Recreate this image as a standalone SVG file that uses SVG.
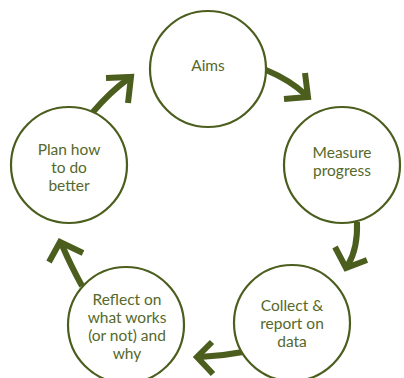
<svg xmlns="http://www.w3.org/2000/svg" width="404" height="378" viewBox="0 0 404 378">
  <style>
    .node circle { fill: #ffffff; stroke: #4b5e1e; stroke-width: 2.2; }
    .node text { font-family: Lato, "Open Sans", sans-serif; font-size: 15.5px; fill: #56682a; text-anchor: middle; }
    .conn path { fill: none; stroke: #4b5e1e; stroke-width: 6; }
    .conn .head { stroke-linejoin: miter; stroke-miterlimit: 10; }
  </style>
  <rect width="404" height="378" fill="#ffffff"/>

  <g id="connectors" class="conn">
    <!-- Aims -> Measure progress -->
    <path d="M266,70 Q290,80 306,95"/>
    <path class="head" d="M305,73 L308,97 L284,99"/>
    <!-- Measure progress -> Collect & report -->
    <path d="M357,222 Q358,248 348,265"/>
    <path class="head" d="M335,247 L346,268 L367,260"/>
    <!-- Collect & report -> Reflect -->
    <path d="M243,352 Q222,356 200,357"/>
    <path class="head" d="M212,342 L197,357 L213,374"/>
    <!-- Reflect -> Plan -->
    <path d="M82,286 Q70,264 62,245"/>
    <path class="head" d="M83,253 L60,242 L49,262"/>
    <!-- Plan -> Aims -->
    <path d="M93,112 Q110,92 128,79"/>
    <path class="head" d="M106,78 L131,77 L128,103"/>
  </g>

  <g id="aims" class="node">
    <circle cx="208" cy="69" r="58"/>
    <text x="208" y="71">Aims</text>
  </g>

  <g id="measure" class="node">
    <circle cx="342" cy="165" r="58"/>
    <text x="342" y="158">Measure</text>
    <text x="342" y="176">progress</text>
  </g>

  <g id="collect" class="node">
    <circle cx="292" cy="323" r="58"/>
    <text x="292" y="311">Collect &amp;</text>
    <text x="292" y="329">report on</text>
    <text x="292" y="347">data</text>
  </g>

  <g id="reflect" class="node">
    <circle cx="126" cy="325" r="58"/>
    <text x="127" y="305">Reflect on</text>
    <text x="127" y="323">what works</text>
    <text x="127" y="341">(or not) and</text>
    <text x="127" y="359">why</text>
  </g>

  <g id="plan" class="node">
    <circle cx="69" cy="165" r="58"/>
    <text x="69" y="155">Plan how</text>
    <text x="69" y="173">to do</text>
    <text x="69" y="191">better</text>
  </g>
</svg>
